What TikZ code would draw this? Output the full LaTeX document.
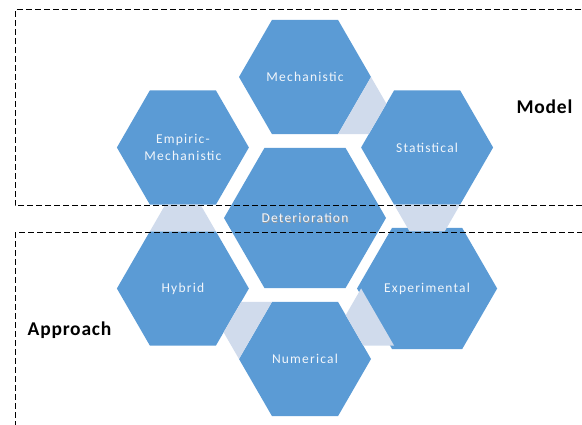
\documentclass[tikz,border=0pt]{standalone}
\usepackage{fontspec}
\setmainfont{Carlito}
\newfontfamily\hexfont{Carlito}[LetterSpace=9.0]
\newfontfamily\sidefont{Carlito}[LetterSpace=4.0]
\usetikzlibrary{shapes.geometric,calc}
\definecolor{hexblue}{HTML}{5B9BD5}
\definecolor{linkblue}{HTML}{D0DBEC}
\definecolor{hextext}{HTML}{F2F6FB}
% circumradius of the small hexagons
\newcommand\hexr{66}
\newcommand\shadowtext[1]{\makebox[0pt][l]{\kern0.8pt\raisebox{-0.8pt}{\textcolor{black!40}{#1}}}#1}

\begin{document}
\begin{tikzpicture}[
        x=1pt, y=1pt,
        hexa/.style={regular polygon, regular polygon sides=6, fill=hexblue,
            minimum size={2*\hexr pt}, inner sep=0pt, outer sep=0pt,
            text=hextext, font=\hexfont\fontsize{13.5}{17}\selectfont,
            align=center},
        bighexa/.style={hexa, minimum size=162pt},
        side/.style={font=\sidefont\bfseries\fontsize{19.5}{22}\selectfont,
            anchor=base},
        box/.style={draw=black, line width=1pt, dash pattern=on 6pt off 3pt},
    ]
\useasboundingbox (0,0) rectangle (582,425);
\clip (0,0) rectangle (582,425);

% centre and ring of hexagons
\node[bighexa] (det) at (305,207) {\shadowtext{Deterioration}};
\node[hexa] (mech)  at ($(det)+(90:141)$)   {Mechanistic};
\node[hexa] (stat)  at ($(det)+(30:141)$)   {Statistical};
\node[hexa] (exper) at ($(det)+(-30:141)$)  {Experimental};
\node[hexa] (num)   at ($(det)+(-90:141)$)  {Numerical};
\node[hexa] (hyb)   at ($(det)+(-150:141)$) {Hybrid};
\node[hexa] (emp)   at ($(det)+(150:141)$)  {Empiric-\\Mechanistic};

% light links between neighbours
\foreach \a/\b/\d in {mech/stat/-30, stat/exper/-90, exper/num/-150,
                      num/hyb/150, hyb/emp/90} {
  \coordinate (a1) at ($(\a)+(\d+30:\hexr)$);
  \coordinate (a2) at ($(\a)+(\d-30:\hexr)$);
  \coordinate (e1) at ($(\a)+(\d+90:\hexr)$);
  \coordinate (e2) at ($(\a)+(\d-90:\hexr)$);
  \coordinate (b1) at ($(\b)+(\d+150:\hexr)$);
  \coordinate (b2) at ($(\b)+(\d+210:\hexr)$);
  \fill[linkblue] (a1) -- (a2) -- (intersection of e2--a2 and b1--b2)
      -- (intersection of e1--a1 and b1--b2) -- cycle;
}

% dashed groups
\draw[box] (600,219) -| (15,415) -- (600,415);
\draw[box] (15,-20) |- (600,192);
\node[side] (model) at (544.5,311) {Model};
\node[side] (appr)  at (69.5,89)   {Approach};
\end{tikzpicture}
\end{document}
